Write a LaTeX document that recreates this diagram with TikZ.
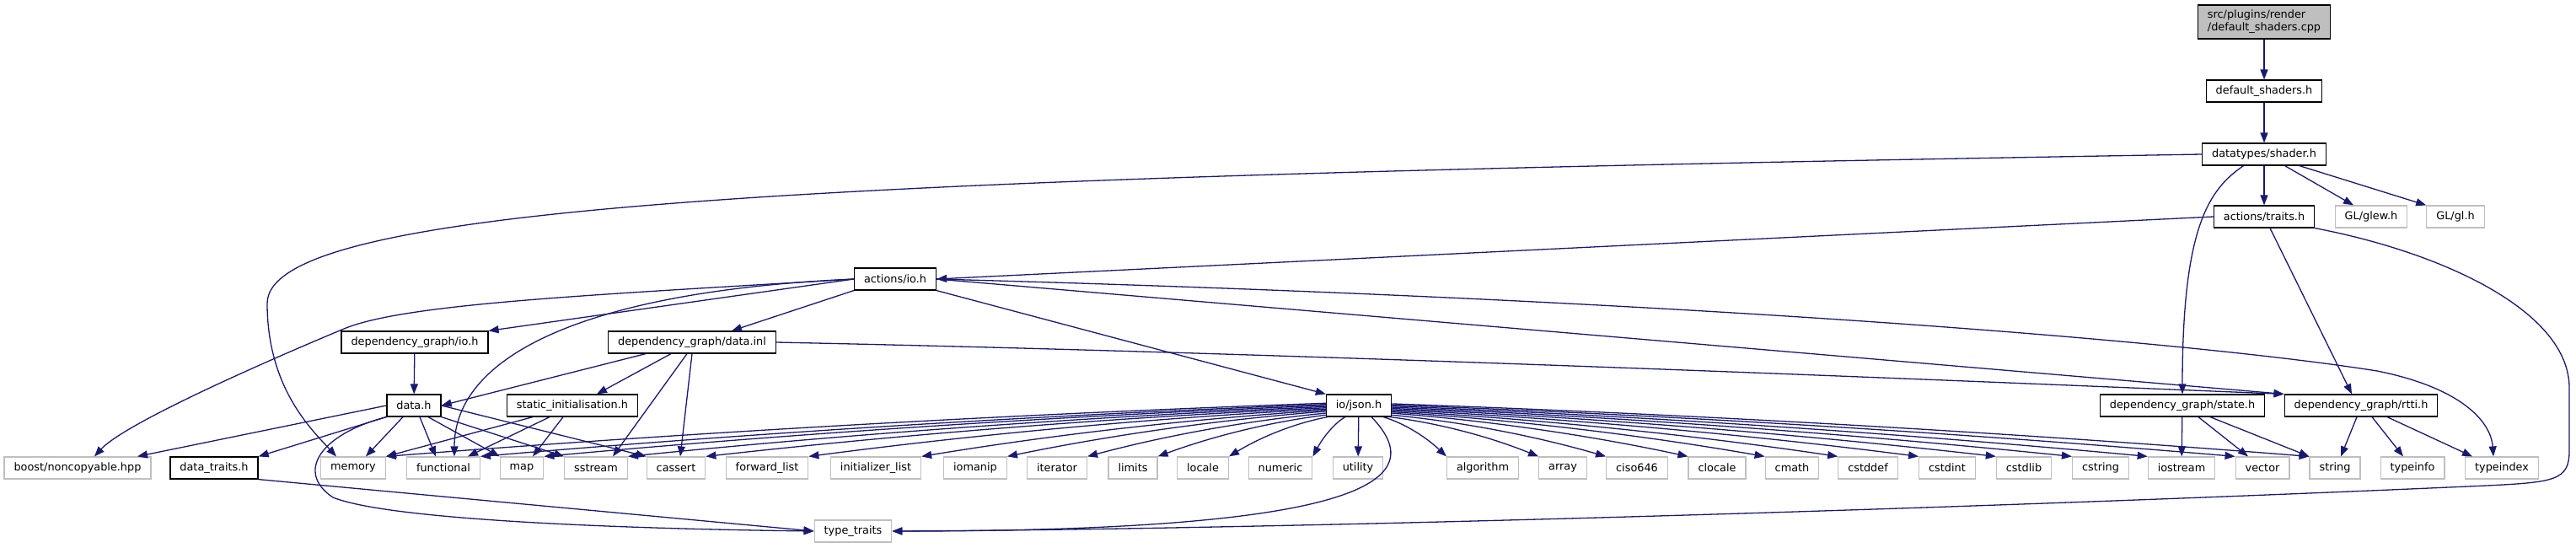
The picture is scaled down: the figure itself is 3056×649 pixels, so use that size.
\documentclass[tikz,border=0pt]{standalone}
\usepackage{fontspec}
\setmainfont{DejaVu Sans}
\usetikzlibrary{arrows.meta,positioning,calc}
\definecolor{edgeblue}{HTML}{191970}
\definecolor{leafgrey}{HTML}{BFBFBF}

\begin{document}
\begin{tikzpicture}[
    x=1pt, y=-1pt,
    file/.style={rectangle, draw=black, fill=white, line width=1.2pt, minimum height=26pt, inner xsep=11.5pt, inner ysep=0pt, font=\fontsize{12.85}{15}\selectfont},
    sysfile/.style={file, draw=leafgrey},
    mainfile/.style={file, fill=leafgrey, align=left, minimum height=40pt},
    arr/.style={-{Triangle[length=12pt, width=9pt]}, line width=1.3pt, edgeblue}
]
\path[use as bounding box] (0,0) rectangle (3056,649);

% files of the project
\node[mainfile] (src) at (2686,26) {src/plugins/render\\/default\_shaders.cpp};
\node[file] (dsh) at (2686,108) {default\_shaders.h};
\node[file] (shader) at (2686,183) {datatypes/shader.h};
\node[file] (traits) at (2686,257) {actions/traits.h};
\node[sysfile] (glew) at (2813,257) {GL/glew.h};
\node[sysfile] (gl) at (2913,257) {GL/gl.h};
\node[file] (aio) at (1062,331) {actions/io.h};
\node[file] (dgio) at (492,406) {dependency\_graph/io.h};
\node[file] (dinl) at (821,406) {dependency\_graph/data.inl};
\node[file] (datah) at (491,481) {data.h};
\node[file] (sinit) at (679,481) {static\_initialisation.h};
\node[file] (json) at (1612,481) {io/json.h};
\node[file] (state) at (2589,481) {dependency\_graph/state.h};
\node[file] (rtti) at (2801,481) {dependency\_graph/rtti.h};

% system headers
\node[sysfile] (boost) at (92,555) {boost/noncopyable.hpp};
\node[file] (dtraits) at (254,555) {data\_traits.h};
\foreach \name/\xpos/\lab in {memory/419/memory, functional/526/functional, map/619/map, sstream/707/sstream, cassert/802/cassert, forwardlist/910/forward\_list, initlist/1039/initializer\_list, iomanip/1157/iomanip, iterator/1254/iterator, limits/1344/limits, locale/1427/locale, numeric/1519/numeric, utility/1611/utility, algorithm/1759/algorithm, array/1854/array, ciso646/1942/ciso646, clocale/2037/clocale, cmath/2126/cmath, cstddef/2216/cstddef, cstdint/2310/cstdint, cstdlib/2401/cstdlib, cstring/2492/cstring, iostream/2588/iostream, vector/2684/vector, string/2770/string, typeinfo/2862/typeinfo, typeindex/2968/typeindex}
  \node[sysfile] (\name) at (\xpos,555) {\lab};
\node[sysfile] (ttraits) at (1012,630) {type\_traits};

% includes
\draw[arr] (src) -- (dsh);
\draw[arr] (dsh) -- (shader);
\draw[arr] (shader) -- (traits);
\draw[arr] (shader.-29.5) -- ([xshift=-21pt]glew.north);
\draw[arr] (shader.-18) -- (gl.north west);
\draw[arr] (shader.west) .. controls (1000,210) and (317,240) .. (317,360) .. controls (317,460) and (370,510) .. ([xshift=-20pt]memory.north);
\draw[arr] (shader.209) .. controls (2620,225) and (2589,270) .. (state.north);

\draw[arr] (traits.west) -- (aio.east);
\draw[arr] ([xshift=7pt]traits.south) -- ([xshift=-11pt]rtti.north);
\draw[arr] (traits.south east) .. controls (2900,300) and (3048,370) .. (3048,460) -- (3048,535) .. controls (3048,570) and (3030,572) .. (2950,576) .. controls (2300,605) and (1500,628) .. (ttraits.east);

\draw[arr] (aio.west) .. controls (700,350) and (480,360) .. (408,390) .. controls (336,420) and (150,500) .. ([xshift=20pt]boost.north);
\draw[arr] (aio.west) .. controls (700,345) and (539,420) .. ([xshift=13pt]functional.north);
\draw[arr] (aio.west) -- (dgio.north east);
\draw[arr] (aio.south west) -- ([xshift=47pt]dinl.north);
\draw[arr] (aio.south east) -- (json.north west);
\draw[arr] (aio.east) -- (rtti.north west);
\draw[arr] (aio.east) .. controls (2000,355) and (2600,405) .. (2820,440) .. controls (2920,460) and (2955,500) .. ([xshift=-10pt]typeindex.north);

\draw[arr] (dgio) -- (datah);
\draw[arr] ([xshift=-55pt]dinl.south) -- (datah.east);
\draw[arr] ([xshift=-25pt]dinl.south) -- ([xshift=29pt]sinit.north);
\draw[arr] ([xshift=-6pt]dinl.south) -- ([xshift=20pt]sstream.north);
\draw[arr] (dinl.south) -- ([xshift=5pt]cassert.north);
\draw[arr] (dinl.east) .. controls (1600,420) and (2400,455) .. (rtti.north west);

\draw[arr] (datah.west) -- ([xshift=71pt]boost.north);
\draw[arr] (datah.south west) -- (dtraits.north east);
\draw[arr] ([xshift=-13pt]datah.south) -- ([xshift=15pt]memory.north);
\draw[arr] ([xshift=7pt]datah.south) -- ([xshift=-9pt]functional.north);
\draw[arr] ([xshift=17pt]datah.south) -- (map.north west);
\draw[arr] (datah.south east) -- (sstream.north west);
\draw[arr] (datah.east) -- (cassert.north west);
\draw[arr] (datah.south west) .. controls (380,515) and (350,560) .. (395,590) .. controls (470,620) and (800,628) .. (ttraits.west);
\draw[arr] (dtraits.south east) -- (ttraits.west);

\draw[arr] ([xshift=-47pt]sinit.south) -- (memory.north east);
\draw[arr] ([xshift=-27pt]sinit.south) -- ([xshift=29pt]functional.north);
\draw[arr] ([xshift=-11pt]sinit.south) -- ([xshift=13pt]map.north);

\foreach \leaf/\ang in {memory/176, functional/178, map/180, sstream/182, cassert/184, forwardlist/186, initlist/188, iomanip/190, iterator/193, limits/196, locale/200, numeric/220}
  \draw[arr] (json.\ang) .. controls ($(json.\ang)!0.33!(\leaf.north east)+(0,-8)$) and ($(json.\ang)!0.67!(\leaf.north east)+(0,-8)$) .. (\leaf.north east);
\draw[arr] (json) -- (utility);
\foreach \leaf/\ang in {algorithm/-25, array/-20, ciso646/-16, clocale/-13, cmath/-11, cstddef/-9, cstdint/-7, cstdlib/-5, cstring/-3, iostream/-1, vector/1, string/3}
  \draw[arr] (json.\ang) .. controls ($(json.\ang)!0.33!(\leaf.north west)+(0,-8)$) and ($(json.\ang)!0.67!(\leaf.north west)+(0,-8)$) .. (\leaf.north west);
\draw[arr] ([xshift=15pt]json.south) .. controls (1700,570) and (1620,630) .. (ttraits.east);

\draw[arr] (state) -- (iostream);
\draw[arr] ([xshift=19pt]state.south) -- ([xshift=-17pt]vector.north);
\draw[arr] ([xshift=33pt]state.south) -- (string.north west);
\draw[arr] ([xshift=-5pt]rtti.south) -- ([xshift=7pt]string.north);
\draw[arr] ([xshift=13pt]rtti.south) -- ([xshift=-11pt]typeinfo.north);
\draw[arr] ([xshift=31pt]rtti.south) -- ([xshift=-35pt]typeindex.north);
\end{tikzpicture}
\end{document}
